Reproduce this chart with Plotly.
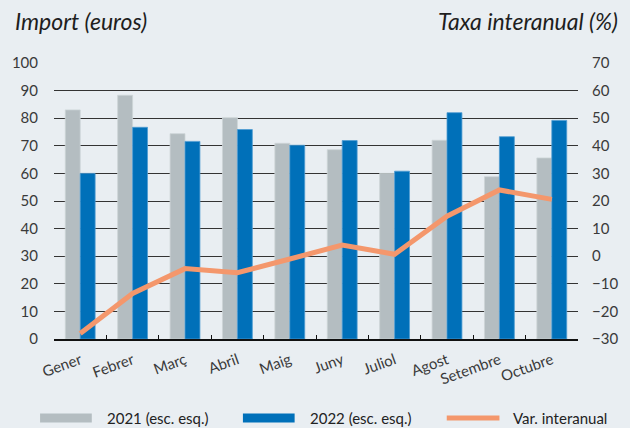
import plotly.graph_objects as go

months = ["Gener", "Febrer", "Març", "Abril", "Maig", "Juny", "Juliol", "Agost", "Setembre", "Octubre"]
v2021 = [83, 88.3, 74.4, 80.2, 70.9, 68.6, 60, 72, 58.8, 65.6]
v2022 = [60, 76.7, 71.6, 75.9, 70.2, 71.9, 60.8, 82, 73.3, 79.2]
var_interanual = [-28, -13.5, -4.5, -6, -1, 4, 0.7, 14.5, 24, 20.6]

left_ticks = list(range(0, 101, 10))
right_ticks = list(range(-30, 71, 10))

C2021 = "#b4bdc1"
C2022 = "#0070b9"
CLINE = "#f4976c"
BG = "#e9eef2"
FONT = "Lato"
TXT = "#3a3a3a"

fig = go.Figure()
fig.add_trace(go.Bar(x=months, y=v2021, name="2021 (esc. esq.)", marker=dict(color=C2021, line=dict(color="#cdd4d7", width=0.8)), showlegend=False))
fig.add_trace(go.Bar(x=months, y=v2022, name="2022 (esc. esq.)", marker=dict(color=C2022, line=dict(color="#4f9cd2", width=0.8)), showlegend=False))
fig.add_trace(go.Scatter(x=months, y=var_interanual, name="Var. interanual", mode="lines", yaxis="y2",
                         line=dict(color=CLINE, width=5), showlegend=False))

fig.update_layout(
    width=630, height=428,
    margin=dict(l=51, r=52, t=63, b=89),
    paper_bgcolor=BG, plot_bgcolor=BG,
    barmode="group", bargap=0.43, bargroupgap=0,
    font=dict(family=FONT, size=15, color=TXT),
    xaxis=dict(showline=True, linecolor="#111111", linewidth=1.5, ticks="inside", ticklen=4, tickcolor="#111111",
               tickson="boundaries", tickangle=-20, showgrid=False, ticklabelstandoff=5,
               tickfont=dict(size=15, color=TXT)),
    yaxis=dict(range=[0, 100], tickvals=left_ticks, showgrid=True, gridcolor="#333333", gridwidth=1,
               zeroline=False, showline=False, ticklabelstandoff=15, tickfont=dict(size=15, color=TXT)),
    yaxis2=dict(range=[-30, 70], tickvals=right_ticks, overlaying="y", side="right", showgrid=False,
                zeroline=False, showline=False, ticklabelstandoff=13, tickfont=dict(size=15, color=TXT)),
)

W, L, R = 630, 51, 578
T, B = 63, 339

def px(x):
    return (x - L) / (R - L)

def py(y):
    return (B - y) / (B - T)

fig.add_annotation(x=px(10), y=py(21), xref="paper", yref="paper", text="<i>Import (euros)</i>", showarrow=False,
                   xanchor="left", yanchor="middle", font=dict(family=FONT, size=23, color="#1e1e1e"))
fig.add_annotation(x=px(620), y=py(21), xref="paper", yref="paper", text="<i>Taxa interanual (%)</i>", showarrow=False,
                   xanchor="right", yanchor="middle", font=dict(family=FONT, size=23, color="#1e1e1e"))

# legend
ly = 418
fig.add_shape(type="rect", xref="paper", yref="paper", x0=px(37), x1=px(89), y0=py(ly - 4.5), y1=py(ly + 4.5),
              fillcolor=C2021, line=dict(width=0))
fig.add_shape(type="rect", xref="paper", yref="paper", x0=px(241), x1=px(293), y0=py(ly - 4.5), y1=py(ly + 4.5),
              fillcolor=C2022, line=dict(width=0))
fig.add_shape(type="line", xref="paper", yref="paper", x0=px(446), x1=px(499), y0=py(ly), y1=py(ly),
              line=dict(color=CLINE, width=5))
for xx, t in [(102, "2021 (esc. esq.)"), (306, "2022 (esc. esq.)"), (511, "Var. interanual")]:
    fig.add_annotation(x=px(xx), y=py(ly), xref="paper", yref="paper", text=t, showarrow=False,
                       xanchor="left", yanchor="middle", font=dict(family=FONT, size=15, color="#222222"))

fig.write_html("out.html", config={"displayModeBar": False},
               post_script="document.body.style.margin='0';document.body.style.padding='0';")
